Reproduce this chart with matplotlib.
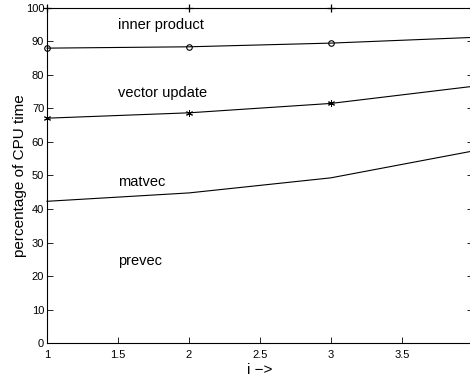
import numpy as np
import matplotlib
matplotlib.use('Agg')
import matplotlib.pyplot as plt

plt.rcParams['font.family'] = ['Liberation Sans', 'DejaVu Sans']

# datos
i_vals = [1, 2, 3, 4]
total = [100, 100, 100, 100]
inner_product = [88.0, 88.4, 89.5, 91.2]
vector_update = [67.1, 68.7, 71.5, 76.6]
matvec = [42.3, 44.8, 49.3, 57.3]

etiquetas = ['inner product', 'vector update', 'matvec', 'prevec']
etiq_y = [95, 74.5, 48, 24.5]

fig = plt.figure(figsize=(4.70, 3.77), dpi=100)
ax = fig.add_axes([0.1, 0.09, 1.006 - 0.1, 0.979 - 0.09])

ax.plot(i_vals, total, 'k-', marker='+', ms=6, mew=0.9, lw=0.8, clip_on=False)
ax.plot(i_vals, inner_product, 'k-', marker='o', ms=4, mfc='none', mew=0.8,
        lw=0.8, clip_on=False)
ax.plot(i_vals, vector_update, 'k-', marker=(6, 2, 0), ms=5, mew=0.7, lw=0.8,
        clip_on=False)
ax.plot(i_vals, matvec, 'k-', lw=0.8, clip_on=False)

for t, y in zip(etiquetas, etiq_y):
    ax.text(1.5, y, t, fontsize=10.5, va='center', ha='left')

ax.set_xlim(1, 4)
ax.set_ylim(0, 100)
ax.set_xticks([1, 1.5, 2, 2.5, 3, 3.5, 4])
ax.set_xticklabels(['1', '1.5', '2', '2.5', '3', '3.5', '4'])
ax.set_yticks(range(0, 101, 10))
ax.tick_params(direction='in', length=4, width=0.6, labelsize=8, pad=2,
               top=False, right=True)
ax.tick_params(axis='x', pad=5)
for s in ax.spines.values():
    s.set_linewidth(0.8)
ax.spines['top'].set_visible(False)

ax.set_xlabel('i \u2212>', fontsize=11, labelpad=2)
ax.set_ylabel('percentage of CPU time', fontsize=11, labelpad=-1)

fig.savefig('out.png', dpi=100)
